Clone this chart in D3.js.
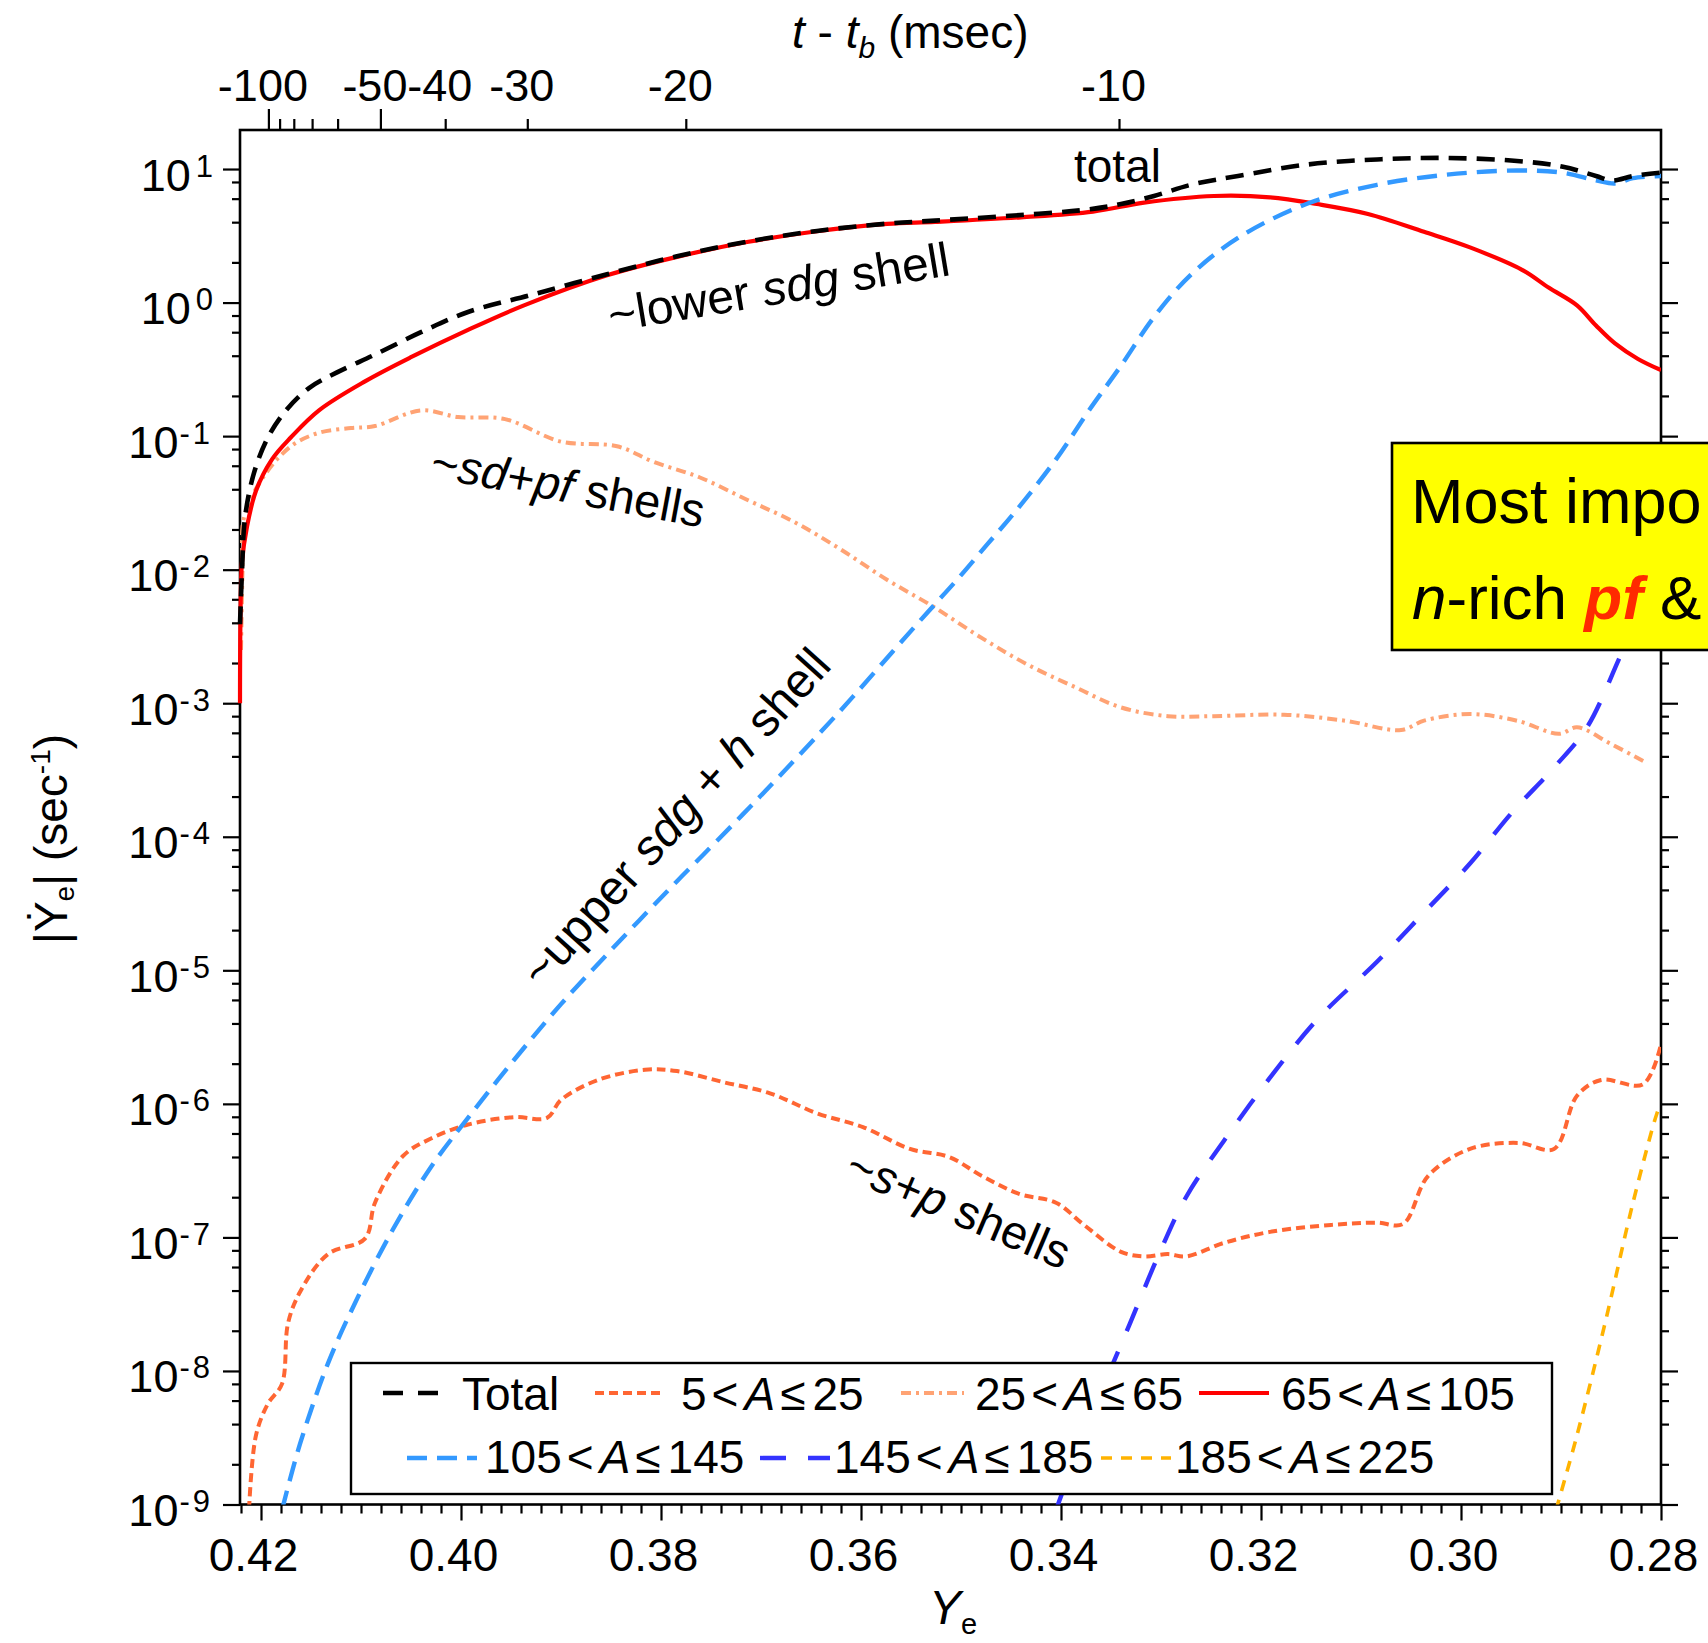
<!DOCTYPE html>
<html>
<head>
<meta charset="utf-8">
<script src="https://cdn.jsdelivr.net/npm/d3@7"></script>
<style>
  html, body { margin: 0; padding: 0; background: #fff; }
  svg { display: block; }
  text { font-family: "Liberation Sans", Arial, Helvetica, sans-serif; fill: #000; white-space: pre; }
</style>
</head>
<body>
<svg id="chart" width="1708" height="1643"></svg>
<script>
// |dYe/dt| (s^-1) versus electron fraction Ye, total and per mass-number bin
const totalRate = [
  [0.4221, 3.9e-3], [0.4219, 9.7e-3], [0.4216, 2.45e-2], [0.4207, 5.3e-2], [0.4193, 9.8e-2],
  [0.4175, 0.156], [0.4152, 0.229], [0.4124, 0.30], [0.4086, 0.408], [0.4040, 0.60],
  [0.3993, 0.85], [0.3928, 1.15], [0.3854, 1.63], [0.3784, 2.22], [0.3714, 2.86],
  [0.3644, 3.44], [0.3574, 3.90], [0.3526, 4.11], [0.3456, 4.44], [0.3372, 4.99],
  [0.3340, 5.47], [0.3307, 6.28], [0.3270, 7.62], [0.3223, 8.87], [0.3154, 10.8],
  [0.3084, 11.8], [0.3014, 12.1], [0.2944, 11.5], [0.2898, 10.4], [0.2865, 8.87],
  [0.2849, 8.2], [0.2828, 8.87], [0.2800, 9.4]
];
const rateA5to25 = [
  [0.4212, 9.1e-10], [0.4205, 3.3e-9], [0.4193, 5.7e-9], [0.4179, 8.0e-9], [0.4173, 2.27e-8],
  [0.4161, 3.9e-8], [0.4133, 7.5e-8], [0.4096, 9.8e-8], [0.4086, 1.82e-7], [0.4058, 4.07e-7],
  [0.4030, 5.5e-7], [0.3993, 7.0e-7], [0.3947, 7.96e-7], [0.3914, 7.85e-7], [0.3900, 1.07e-6],
  [0.3863, 1.51e-6], [0.3816, 1.80e-6], [0.3784, 1.76e-6], [0.3737, 1.45e-6], [0.3691, 1.20e-6],
  [0.3644, 8.5e-7], [0.3598, 6.7e-7], [0.3551, 4.6e-7], [0.3512, 4.0e-7], [0.3479, 2.88e-7],
  [0.3442, 2.12e-7], [0.3405, 1.82e-7], [0.3377, 1.24e-7], [0.3340, 7.8e-8], [0.3317, 7.2e-8],
  [0.3293, 7.5e-8], [0.3275, 7.2e-8], [0.3237, 9.1e-8], [0.3191, 1.10e-7], [0.3130, 1.24e-7],
  [0.3084, 1.29e-7], [0.3058, 1.26e-7], [0.3033, 2.88e-7], [0.2991, 4.6e-7], [0.2942, 5.1e-7],
  [0.2907, 4.6e-7], [0.2884, 1.15e-6], [0.2860, 1.51e-6], [0.2818, 1.40e-6], [0.2800, 2.8e-6]
];
const rateA25to65 = [
  [0.4220, 2.5e-3], [0.42185, 1.0e-2], [0.4217, 2.45e-2], [0.4198, 4.9e-2], [0.4170, 8.4e-2],
  [0.4142, 0.106], [0.4110, 0.115], [0.4086, 0.119], [0.4040, 0.156], [0.4003, 0.139],
  [0.3956, 0.134], [0.3900, 9.1e-2], [0.3844, 8.4e-2], [0.3807, 6.4e-2], [0.3761, 4.9e-2],
  [0.3714, 3.34e-2], [0.3667, 2.28e-2], [0.3621, 1.43e-2], [0.3574, 8.4e-3], [0.3528, 5.3e-3],
  [0.3479, 3.07e-3], [0.3433, 1.94e-3], [0.3386, 1.32e-3], [0.3340, 9.3e-4], [0.3293, 8.0e-4],
  [0.3247, 8.0e-4], [0.3177, 8.2e-4], [0.3116, 7.4e-4], [0.3060, 6.3e-4], [0.3037, 7.4e-4],
  [0.2991, 8.3e-4], [0.2944, 7.4e-4], [0.2902, 5.9e-4], [0.2884, 6.6e-4], [0.2851, 5.0e-4],
  [0.2814, 3.56e-4]
];
const rateA65to105 = [
  [0.4221, 1.0e-3], [0.42205, 4.5e-3], [0.4219, 1.14e-2], [0.4214, 2.1e-2], [0.4205, 3.9e-2],
  [0.4189, 6.7e-2], [0.4170, 9.8e-2], [0.4142, 0.156], [0.4096, 0.257], [0.4049, 0.393],
  [0.3993, 0.624], [0.3937, 0.953], [0.3854, 1.60], [0.3784, 2.20], [0.3714, 2.84],
  [0.3644, 3.42], [0.3574, 3.88], [0.3526, 4.02], [0.3440, 4.35], [0.3368, 4.80],
  [0.3317, 5.60], [0.3247, 6.28], [0.3191, 6.14], [0.3144, 5.47], [0.3093, 4.61],
  [0.3037, 3.39], [0.2991, 2.59], [0.2939, 1.76], [0.2912, 1.29], [0.2884, 0.953],
  [0.2865, 0.673], [0.2846, 0.494], [0.2823, 0.378], [0.2800, 0.312]
];
const rateA105to145 = [
  [0.4179, 9.1e-10], [0.4161, 2.84e-9], [0.4133, 1.14e-8], [0.4105, 3.34e-8], [0.4068, 1.15e-7],
  [0.4030, 3.37e-7], [0.3993, 7.85e-7], [0.3947, 2.13e-6], [0.3900, 5.58e-6], [0.3844, 1.58e-5],
  [0.3784, 4.65e-5], [0.3758, 7.3e-5], [0.3701, 2.0e-4], [0.3641, 6.0e-4], [0.3608, 1.12e-3],
  [0.3568, 2.45e-3], [0.3534, 4.74e-3], [0.3504, 8.4e-3], [0.3474, 1.54e-2], [0.3447, 2.65e-2],
  [0.3405, 6.7e-2], [0.3372, 0.156], [0.3340, 0.337], [0.3307, 0.78], [0.3270, 1.62],
  [0.3223, 3.05], [0.3154, 5.5], [0.3084, 7.62], [0.3014, 9.08], [0.2944, 9.75],
  [0.2898, 9.38], [0.2865, 8.22], [0.2846, 7.80], [0.2828, 8.55], [0.2800, 8.87]
];
const rateA145to185 = [
  [0.3405, 9.1e-10], [0.3372, 4.2e-9], [0.3331, 2.27e-8], [0.3303, 7.2e-8], [0.3275, 2.0e-7],
  [0.3237, 5.3e-7], [0.3191, 1.57e-6], [0.3144, 4.27e-6], [0.3084, 1.16e-5], [0.3037, 2.71e-5],
  [0.2991, 6.3e-5], [0.2949, 1.52e-4], [0.2907, 3.3e-4], [0.2874, 6.6e-4], [0.2838, 2.5e-3],
  [0.2800, 1.0e-2]
];
const rateA185to225 = [
  [0.2905, 9.1e-10], [0.2884, 3.3e-9], [0.2856, 2.27e-8], [0.2828, 1.82e-7], [0.2804, 8.5e-7],
  [0.2800, 1.0e-6]
];

const massBins = [[5, 25], [25, 65], [65, 105], [105, 145], [145, 185], [185, 225]];

// top axis: time to bounce (ms) and the Ye reached at that moment
const bounceTimes = [-100, -90, -80, -70, -60, -50, -40, -30, -20, -10];
const bounceTimeYe = [0.41926, 0.41814, 0.41672, 0.41489, 0.41234, 0.40806, 0.40158, 0.39337, 0.37752, 0.3342];
const labeledTimes = [-100, -50, -40, -30, -20, -10];
const longTimeTicks = [-100, -50];

const yeMajorTicks = [0.42, 0.40, 0.38, 0.36, 0.34, 0.32, 0.30, 0.28];
const rateExponents = [-9, -8, -7, -6, -5, -4, -3, -2, -1, 0, 1];

// ---------------------------------------------------------------------------
const svg = d3.select("#chart");
const W = 1708, H = 1643;
const plot = { left: 240, right: 1661, top: 130, bottom: 1504.5 };
const FONT = 46;

const x = d3.scaleLinear().domain([0.4221, 0.28]).range([plot.left, plot.right]);
const y = d3.scaleLog().domain([1e-9, 19.6]).range([plot.bottom, plot.top]);
const tScale = d3.scaleLinear().domain(bounceTimes).range(bounceTimeYe.map(v => x(v)));

svg.append("rect").attr("width", W).attr("height", H).attr("fill", "#fff");

function cleanAxis(g) {
  g.attr("font-family", null).attr("font-size", null);
  g.select(".domain").remove();
  g.selectAll(".tick line").attr("stroke", "#000").attr("stroke-width", 2.2);
}

// bottom axis (Ye)
const yeMinor = d3.range(0, 72).map(i => +(0.28 + i * 0.002).toFixed(3))
  .filter(v => v <= 0.4221 && !yeMajorTicks.some(m => Math.abs(m - v) < 1e-6));
svg.append("g").attr("transform", `translate(0,${plot.bottom})`)
  .call(d3.axisBottom(x).tickValues(yeMinor).tickSize(9).tickFormat(""))
  .call(cleanAxis);
svg.append("g").attr("transform", `translate(0,${plot.bottom})`)
  .call(d3.axisBottom(x).tickValues(yeMajorTicks).tickSize(16).tickFormat(d3.format(".2f")))
  .call(cleanAxis)
  .call(g => g.selectAll(".tick text").attr("y", 66).attr("dy", null).attr("dx", -8)
    .attr("font-size", FONT).attr("fill", "#000"));

// left / right axes (log rate)
const rateMajor = rateExponents.map(e => Math.pow(10, e));
const rateMinor = [];
rateExponents.forEach(e => [2, 4, 6, 8].forEach(m => {
  const v = m * Math.pow(10, e);
  if (v <= 19.6) rateMinor.push(v);
}));
svg.append("g").attr("transform", `translate(${plot.left},0)`)
  .call(d3.axisLeft(y).tickValues(rateMinor).tickSize(8).tickFormat(""))
  .call(cleanAxis);
svg.append("g").attr("transform", `translate(${plot.left},0)`)
  .call(d3.axisLeft(y).tickValues(rateMajor).tickSize(17).tickFormat(""))
  .call(cleanAxis)
  .call(g => g.selectAll(".tick text").each(function (d) {
    const t = d3.select(this).attr("x", -27).attr("y", 21).attr("dy", null)
      .attr("text-anchor", "end").attr("fill", "#000").attr("font-size", 45);
    const e = Math.round(Math.log10(d));
    t.append("tspan").text("10");
    t.append("tspan").attr("dx", e < 0 ? 1 : 5).attr("dy", -14).attr("font-size", 31)
      .attr("letter-spacing", e < 0 ? 3 : 0).text(String(e));
  }));
svg.append("g").attr("transform", `translate(${plot.right},0)`)
  .call(d3.axisRight(y).tickValues(rateMinor).tickSize(8).tickFormat(""))
  .call(cleanAxis);
svg.append("g").attr("transform", `translate(${plot.right},0)`)
  .call(d3.axisRight(y).tickValues(rateMajor).tickSize(17).tickFormat(""))
  .call(cleanAxis);

// top axis (time to bounce)
svg.append("g").attr("transform", `translate(0,${plot.top})`)
  .call(d3.axisTop(tScale).tickValues(bounceTimes.filter(t => !longTimeTicks.includes(t))).tickSize(11).tickFormat(""))
  .call(cleanAxis);
svg.append("g").attr("transform", `translate(0,${plot.top})`)
  .call(d3.axisTop(tScale).tickValues(longTimeTicks).tickSize(21).tickFormat(""))
  .call(cleanAxis);
svg.append("g").attr("transform", `translate(0,${plot.top})`)
  .call(d3.axisTop(tScale).tickValues(labeledTimes).tickSize(0).tickFormat(d => String(d)))
  .call(cleanAxis)
  .call(g => g.selectAll(".tick text").attr("y", -29).attr("dy", null).attr("dx", -6)
    .attr("font-size", 45).attr("fill", "#000"));

// frame
svg.append("rect")
  .attr("x", plot.left).attr("y", plot.top)
  .attr("width", plot.right - plot.left).attr("height", plot.bottom - plot.top)
  .attr("fill", "none").attr("stroke", "#000").attr("stroke-width", 2.6);

// axis titles
const topTitle = svg.append("text").attr("x", 792).attr("y", 48).attr("font-size", FONT);
topTitle.append("tspan").attr("font-style", "italic").text("t");
topTitle.append("tspan").text(" - ");
topTitle.append("tspan").attr("font-style", "italic").text("t");
topTitle.append("tspan").attr("font-style", "italic").attr("font-size", 30).attr("dy", 10).text("b");
topTitle.append("tspan").attr("dy", -10).text(" (msec)");

const xTitle = svg.append("text").attr("x", 929).attr("y", 1624).attr("font-size", FONT + 2);
xTitle.append("tspan").attr("font-style", "italic").text("Y");
xTitle.append("tspan").attr("font-size", 29).attr("dy", 10).text("e");

const yTitle = svg.append("text").attr("transform", "translate(67,839) rotate(-90)")
  .attr("text-anchor", "middle").attr("font-size", FONT);
yTitle.append("tspan").text("|\u1E8E");
yTitle.append("tspan").attr("font-size", 28).attr("dy", 7).text("e");
yTitle.append("tspan").attr("dy", -7).text("| (sec");
yTitle.append("tspan").attr("font-size", 28).attr("dy", -17).text("-1");
yTitle.append("tspan").attr("dy", 17).text(")");

// curves
svg.append("clipPath").attr("id", "plot-clip").append("rect")
  .attr("x", plot.left - 3).attr("y", plot.top)
  .attr("width", plot.right - plot.left + 3).attr("height", plot.bottom - plot.top);

const series = [
  { data: rateA5to25,    color: "#FF6633", width: 4,   dash: "9,5" },
  { data: rateA25to65,   color: "#FFA374", width: 4,   dash: "10,5,3,5" },
  { data: rateA185to225, color: "#FFB300", width: 3.6, dash: "11,9" },
  { data: rateA145to185, color: "#3333FF", width: 4.4, dash: "26,22" },
  { data: rateA65to105,  color: "#FF0000", width: 4.2, dash: null },
  { data: rateA105to145, color: "#3399FF", width: 4.4, dash: "20,10" },
  { data: totalRate,     color: "#000000", width: 4.6, dash: "18,10" }
];
const line = d3.line().x(d => x(d[0])).y(d => y(d[1])).curve(d3.curveCatmullRom.alpha(0.5));
const curves = svg.append("g").attr("clip-path", "url(#plot-clip)");
series.forEach(s => {
  curves.append("path").datum(s.data).attr("d", line)
    .attr("fill", "none").attr("stroke", s.color).attr("stroke-width", s.width)
    .attr("stroke-dasharray", s.dash).attr("stroke-linejoin", "round");
});

// curve annotations
function annotate(px, py, angle, size, parts) {
  const t = svg.append("text").attr("transform", `translate(${px},${py}) rotate(${angle})`)
    .attr("font-size", size);
  parts.forEach(([s, it]) => t.append("tspan").attr("font-style", it ? "italic" : null).text(s));
}
annotate(1074, 182, 0, FONT, [["total", false]]);
annotate(611, 332, -9.5, 48, [["~lower ", false], ["sdg", true], [" shell", false]]);
annotate(429, 477, 10.5, 47, [["~", false], ["sd", true], ["+", false], ["pf", true], [" shells", false]]);
annotate(542, 990, -48, 48, [["~upper ", false], ["sdg", true], [" + ", false], ["h", true], [" shell", false]]);
annotate(843, 1177, 23, 47, [["~", false], ["s", true], ["+", false], ["p", true], [" shells", false]]);

// legend
const legend = svg.append("g");
legend.append("rect").attr("x", 351).attr("y", 1363).attr("width", 1201).attr("height", 131)
  .attr("fill", "#fff").attr("stroke", "#000").attr("stroke-width", 2.4);
const legendOrder = [
  { label: "Total", style: series[6], sampleDash: "20,15" },
  { bin: massBins[0], style: series[0] },
  { bin: massBins[1], style: series[1] },
  { bin: massBins[2], style: series[4] },
  { bin: massBins[3], style: series[5] },
  { bin: massBins[4], style: series[3] },
  { bin: massBins[5], style: series[2] }
];
const legendSlots = [
  { x0: 383, x1: 438, tx: 462, row: 0 }, { x0: 595, x1: 662, tx: 681, row: 0 },
  { x0: 901, x1: 964, tx: 975, row: 0 }, { x0: 1199, x1: 1269, tx: 1281, row: 0 },
  { x0: 407, x1: 477, tx: 485, row: 1 }, { x0: 760, x1: 830, tx: 834, row: 1 },
  { x0: 1101, x1: 1171, tx: 1175, row: 1 }
];
const rowLineY = [1393, 1458], rowBaseY = [1410, 1473];
legendOrder.forEach((item, i) => {
  const slot = legendSlots[i];
  legend.append("line").attr("x1", slot.x0).attr("x2", slot.x1)
    .attr("y1", rowLineY[slot.row]).attr("y2", rowLineY[slot.row])
    .attr("stroke", item.style.color).attr("stroke-width", item.style.width)
    .attr("stroke-dasharray", item.sampleDash || item.style.dash);
  const t = legend.append("text").attr("x", slot.tx).attr("y", rowBaseY[slot.row]).attr("font-size", FONT);
  if (item.label) {
    t.text(item.label);
  } else {
    t.append("tspan").text(item.bin[0]);
    t.append("tspan").attr("dx", 5).text("<");
    t.append("tspan").attr("dx", 6).attr("font-style", "italic").text("A");
    t.append("tspan").attr("dx", 5).text("\u2264");
    t.append("tspan").attr("dx", 7).text(item.bin[1]);
  }
});

// highlighted note box
const note = svg.append("g");
note.append("rect").attr("x", 1392).attr("y", 443).attr("width", 330).attr("height", 207)
  .attr("fill", "#FFFF00").attr("stroke", "#000").attr("stroke-width", 2.6);
note.append("text").attr("x", 1411).attr("y", 523).attr("font-size", 63).text("Most impo");
const note2 = note.append("text").attr("x", 1412).attr("y", 619).attr("font-size", 62);
note2.append("tspan").attr("font-style", "italic").text("n");
note2.append("tspan").text("-rich ");
note2.append("tspan").attr("font-style", "italic").attr("font-weight", "bold").attr("fill", "#FF2A00").text("pf");
note2.append("tspan").text(" &");
</script>
</body>
</html>
